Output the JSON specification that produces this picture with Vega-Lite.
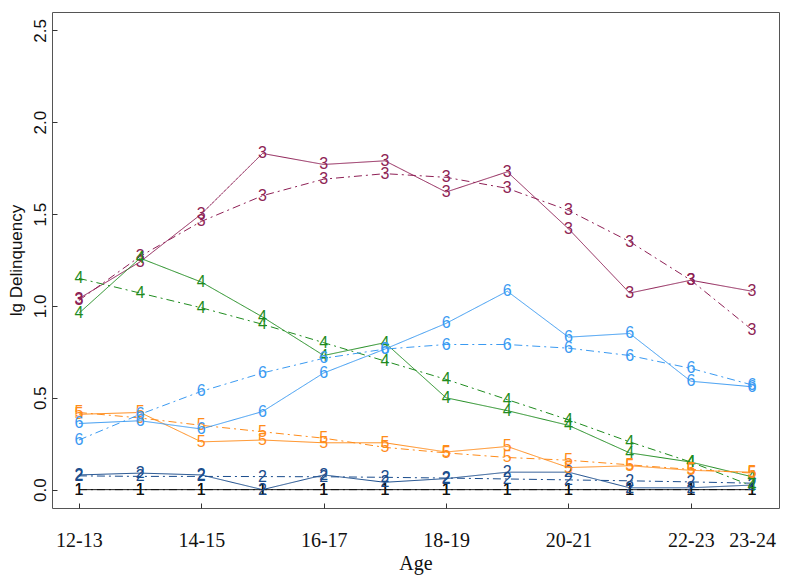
{
  "$schema": "https://vega.github.io/schema/vega-lite/v6.json",
  "autosize": "none",
  "width": 727,
  "height": 496,
  "padding": {"left": 52, "top": 12, "right": 21, "bottom": 72},
  "background": "white",
  "config": {
    "view": {"stroke": "#555555", "strokeWidth": 1},
    "axis": {"grid": false, "domain": false, "tickColor": "#333333", "labelColor": "#111111", "titleColor": "#111111", "titleFontWeight": "normal"}
  },
  "data": {"values": [
    {"s":"1","t":"obs","i":1,"v":0},{"s":"1","t":"obs","i":2,"v":0},{"s":"1","t":"obs","i":3,"v":0},{"s":"1","t":"obs","i":4,"v":0},{"s":"1","t":"obs","i":5,"v":0},{"s":"1","t":"obs","i":6,"v":0},{"s":"1","t":"obs","i":7,"v":0},{"s":"1","t":"obs","i":8,"v":0},{"s":"1","t":"obs","i":9,"v":0},{"s":"1","t":"obs","i":10,"v":0},{"s":"1","t":"obs","i":11,"v":0},{"s":"1","t":"obs","i":12,"v":0},
    {"s":"1","t":"fit","i":1,"v":0},{"s":"1","t":"fit","i":2,"v":0},{"s":"1","t":"fit","i":3,"v":0},{"s":"1","t":"fit","i":4,"v":0},{"s":"1","t":"fit","i":5,"v":0},{"s":"1","t":"fit","i":6,"v":0},{"s":"1","t":"fit","i":7,"v":0},{"s":"1","t":"fit","i":8,"v":0},{"s":"1","t":"fit","i":9,"v":0},{"s":"1","t":"fit","i":10,"v":0},{"s":"1","t":"fit","i":11,"v":0},{"s":"1","t":"fit","i":12,"v":0},
    {"s":"2","t":"obs","i":1,"v":0.08},{"s":"2","t":"obs","i":2,"v":0.09},{"s":"2","t":"obs","i":3,"v":0.08},{"s":"2","t":"obs","i":4,"v":0.0},{"s":"2","t":"obs","i":5,"v":0.08},{"s":"2","t":"obs","i":6,"v":0.04},{"s":"2","t":"obs","i":7,"v":0.06},{"s":"2","t":"obs","i":8,"v":0.095},{"s":"2","t":"obs","i":9,"v":0.095},{"s":"2","t":"obs","i":10,"v":0.01},{"s":"2","t":"obs","i":11,"v":0.01},{"s":"2","t":"obs","i":12,"v":0.025},
    {"s":"2","t":"fit","i":1,"v":0.075},{"s":"2","t":"fit","i":2,"v":0.072},{"s":"2","t":"fit","i":3,"v":0.072},{"s":"2","t":"fit","i":4,"v":0.071},{"s":"2","t":"fit","i":5,"v":0.07},{"s":"2","t":"fit","i":6,"v":0.067},{"s":"2","t":"fit","i":7,"v":0.063},{"s":"2","t":"fit","i":8,"v":0.058},{"s":"2","t":"fit","i":9,"v":0.053},{"s":"2","t":"fit","i":10,"v":0.048},{"s":"2","t":"fit","i":11,"v":0.042},{"s":"2","t":"fit","i":12,"v":0.035},
    {"s":"3","t":"obs","i":1,"v":1.04},{"s":"3","t":"obs","i":2,"v":1.24},{"s":"3","t":"obs","i":3,"v":1.5},{"s":"3","t":"obs","i":4,"v":1.83},{"s":"3","t":"obs","i":5,"v":1.77},{"s":"3","t":"obs","i":6,"v":1.79},{"s":"3","t":"obs","i":7,"v":1.62},{"s":"3","t":"obs","i":8,"v":1.73},{"s":"3","t":"obs","i":9,"v":1.42},{"s":"3","t":"obs","i":10,"v":1.07},{"s":"3","t":"obs","i":11,"v":1.14},{"s":"3","t":"obs","i":12,"v":1.08},
    {"s":"3","t":"fit","i":1,"v":1.03},{"s":"3","t":"fit","i":2,"v":1.27},{"s":"3","t":"fit","i":3,"v":1.46},{"s":"3","t":"fit","i":4,"v":1.6},{"s":"3","t":"fit","i":5,"v":1.69},{"s":"3","t":"fit","i":6,"v":1.72},{"s":"3","t":"fit","i":7,"v":1.7},{"s":"3","t":"fit","i":8,"v":1.64},{"s":"3","t":"fit","i":9,"v":1.52},{"s":"3","t":"fit","i":10,"v":1.35},{"s":"3","t":"fit","i":11,"v":1.14},{"s":"3","t":"fit","i":12,"v":0.87},
    {"s":"4","t":"obs","i":1,"v":0.96},{"s":"4","t":"obs","i":2,"v":1.26},{"s":"4","t":"obs","i":3,"v":1.13},{"s":"4","t":"obs","i":4,"v":0.94},{"s":"4","t":"obs","i":5,"v":0.73},{"s":"4","t":"obs","i":6,"v":0.8},{"s":"4","t":"obs","i":7,"v":0.5},{"s":"4","t":"obs","i":8,"v":0.43},{"s":"4","t":"obs","i":9,"v":0.35},{"s":"4","t":"obs","i":10,"v":0.2},{"s":"4","t":"obs","i":11,"v":0.15},{"s":"4","t":"obs","i":12,"v":0.07},
    {"s":"4","t":"fit","i":1,"v":1.15},{"s":"4","t":"fit","i":2,"v":1.07},{"s":"4","t":"fit","i":3,"v":0.99},{"s":"4","t":"fit","i":4,"v":0.9},{"s":"4","t":"fit","i":5,"v":0.8},{"s":"4","t":"fit","i":6,"v":0.7},{"s":"4","t":"fit","i":7,"v":0.6},{"s":"4","t":"fit","i":8,"v":0.49},{"s":"4","t":"fit","i":9,"v":0.38},{"s":"4","t":"fit","i":10,"v":0.26},{"s":"4","t":"fit","i":11,"v":0.15},{"s":"4","t":"fit","i":12,"v":0.02},
    {"s":"5","t":"obs","i":1,"v":0.41},{"s":"5","t":"obs","i":2,"v":0.42},{"s":"5","t":"obs","i":3,"v":0.26},{"s":"5","t":"obs","i":4,"v":0.27},{"s":"5","t":"obs","i":5,"v":0.255},{"s":"5","t":"obs","i":6,"v":0.255},{"s":"5","t":"obs","i":7,"v":0.205},{"s":"5","t":"obs","i":8,"v":0.235},{"s":"5","t":"obs","i":9,"v":0.12},{"s":"5","t":"obs","i":10,"v":0.13},{"s":"5","t":"obs","i":11,"v":0.105},{"s":"5","t":"obs","i":12,"v":0.095},
    {"s":"5","t":"fit","i":1,"v":0.42},{"s":"5","t":"fit","i":2,"v":0.39},{"s":"5","t":"fit","i":3,"v":0.35},{"s":"5","t":"fit","i":4,"v":0.315},{"s":"5","t":"fit","i":5,"v":0.28},{"s":"5","t":"fit","i":6,"v":0.23},{"s":"5","t":"fit","i":7,"v":0.2},{"s":"5","t":"fit","i":8,"v":0.175},{"s":"5","t":"fit","i":9,"v":0.16},{"s":"5","t":"fit","i":10,"v":0.135},{"s":"5","t":"fit","i":11,"v":0.11},{"s":"5","t":"fit","i":12,"v":0.09},
    {"s":"6","t":"obs","i":1,"v":0.36},{"s":"6","t":"obs","i":2,"v":0.375},{"s":"6","t":"obs","i":3,"v":0.33},{"s":"6","t":"obs","i":4,"v":0.425},{"s":"6","t":"obs","i":5,"v":0.635},{"s":"6","t":"obs","i":6,"v":0.765},{"s":"6","t":"obs","i":7,"v":0.905},{"s":"6","t":"obs","i":8,"v":1.08},{"s":"6","t":"obs","i":9,"v":0.83},{"s":"6","t":"obs","i":10,"v":0.85},{"s":"6","t":"obs","i":11,"v":0.59},{"s":"6","t":"obs","i":12,"v":0.56},
    {"s":"6","t":"fit","i":1,"v":0.27},{"s":"6","t":"fit","i":2,"v":0.41},{"s":"6","t":"fit","i":3,"v":0.535},{"s":"6","t":"fit","i":4,"v":0.635},{"s":"6","t":"fit","i":5,"v":0.715},{"s":"6","t":"fit","i":6,"v":0.765},{"s":"6","t":"fit","i":7,"v":0.79},{"s":"6","t":"fit","i":8,"v":0.79},{"s":"6","t":"fit","i":9,"v":0.77},{"s":"6","t":"fit","i":10,"v":0.73},{"s":"6","t":"fit","i":11,"v":0.66},{"s":"6","t":"fit","i":12,"v":0.57}
  ]},
  "encoding": {
    "x": {"field": "i", "type": "quantitative",
      "scale": {"domain": [0.56, 12.44], "nice": false, "zero": false},
      "axis": {"values": [1, 3, 5, 7, 9, 11, 12], "title": "Age",
        "labelExpr": "['','12-13','','14-15','','16-17','','18-19','','20-21','','22-23','23-24'][datum.value]",
        "tickSize": -5, "tickOpacity": {"condition": {"test": "datum.value == 12", "value": 0}, "value": 1},
        "labelFont": "Liberation Serif", "labelFontSize": 20, "labelPadding": 27, "labelFlush": false, "labelOverlap": false,
        "titleFont": "Liberation Serif", "titleFontSize": 20, "titlePadding": 3}},
    "y": {"field": "v", "type": "quantitative",
      "scale": {"domain": [-0.1, 2.6], "nice": false, "zero": false},
      "axis": {"values": [0, 0.5, 1, 1.5, 2, 2.5], "format": ".1f", "title": "lg Delinquency",
        "tickSize": -5, "labelAngle": 270, "labelAlign": "center", "labelBaseline": "bottom",
        "labelFont": "Liberation Sans", "labelFontSize": 17, "labelPadding": 8, "labelFlush": false, "labelOverlap": false,
        "titleFont": "Liberation Sans", "titleFontSize": 17, "titlePadding": 6}},
    "color": {"field": "s", "type": "nominal", "legend": null,
      "scale": {"domain": ["1", "2", "3", "4", "5", "6"], "range": ["#111111", "#1a4c8c", "#8e1f55", "#1f8c1f", "#ff8c1a", "#3a9af2"]}}
  },
  "layer": [
    {"mark": {"type": "line", "strokeWidth": 1},
     "encoding": {"detail": {"field": "t"},
       "strokeDash": {"field": "t", "type": "nominal", "legend": null,
         "scale": {"domain": ["obs", "fit"], "range": [[1, 0], [8, 4, 2, 4]]}}}},
    {"mark": {"type": "text", "font": "Liberation Sans", "fontSize": 16, "align": "center", "baseline": "middle"},
     "encoding": {"text": {"field": "s"}}}
  ]
}
